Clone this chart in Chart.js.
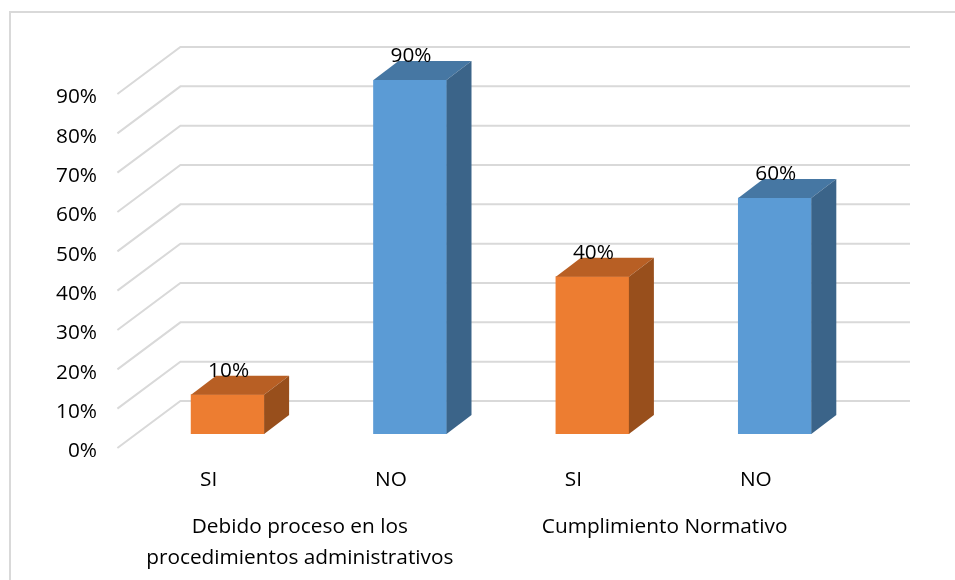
<!DOCTYPE html>
<html>
<head>
<meta charset="utf-8">
<title>Debido proceso y cumplimiento normativo</title>
<script src="https://cdn.jsdelivr.net/npm/chart.js@4"></script>
<style>
  html, body { margin: 0; padding: 0; background: #fff; }
  #wrap { width: 955px; height: 580px; }
  canvas { display: block; }
</style>
</head>
<body>
<div id="wrap"><canvas id="myChart" width="955" height="580"></canvas></div>
<script>
// Respuestas por categoria
const categories = ['SI', 'NO', 'SI', 'NO'];
const groups = [
    { label: ['Debido proceso en los', 'procedimientos administrativos'], from: 0, to: 1 },
    { label: ['Cumplimiento Normativo'], from: 2, to: 3 }
];
const values = [10, 90, 40, 60];
const yMax = 90;
const yStep = 10;

const orange = { front: '#ED7D31', top: '#B85F24', side: '#984F1C' };
const blue = { front: '#5B9BD5', top: '#4677A3', side: '#3B6489' };
const barColors = [orange, blue, orange, blue];

// Desplazamientos de la perspectiva respecto al plano de las barras
const wallBack = { dx: 44, dy: -33 };
const wallFront = { dx: -19, dy: 14 };
const barDepth = { dx: 25, dy: -19 };
const fontFamily = '"Open Sans", sans-serif';

const box3d = {
    id: 'box3d',
    beforeDraw(chart) {
        const c = chart.ctx;
        // marco: solo arriba e izquierda quedan dentro del lienzo
        c.save();
        c.strokeStyle = '#d9d9d9';
        c.lineWidth = 2;
        c.beginPath();
        c.moveTo(10, 580);
        c.lineTo(10, 12);
        c.lineTo(955, 12);
        c.stroke();
        c.restore();
    },
    // paredes y rejilla, detras de las barras
    beforeDatasetsDraw(chart) {
        const c = chart.ctx;
        const x = chart.scales.x;
        const y = chart.scales.y;
        c.save();
        c.strokeStyle = '#d9d9d9';
        c.lineWidth = 2;
        y.ticks.forEach((tick) => {
            const py = y.getPixelForValue(tick.value);
            c.beginPath();
            c.moveTo(x.left + wallFront.dx, py + wallFront.dy);
            c.lineTo(x.left + wallBack.dx, py + wallBack.dy);
            c.lineTo(x.right + wallBack.dx, py + wallBack.dy);
            c.stroke();
        });
        c.restore();
    },
    // caras superior y lateral de cada barra, y todos los textos
    afterDatasetsDraw(chart) {
        const c = chart.ctx;
        const x = chart.scales.x;
        const y = chart.scales.y;
        const bars = chart.getDatasetMeta(0).data;
        c.save();
        bars.forEach((bar, i) => {
            const left = bar.x - bar.width / 2;
            const right = bar.x + bar.width / 2;
            c.fillStyle = barColors[i].top;
            c.beginPath();
            c.moveTo(left, bar.y);
            c.lineTo(left + barDepth.dx, bar.y + barDepth.dy);
            c.lineTo(right + barDepth.dx, bar.y + barDepth.dy);
            c.lineTo(right, bar.y);
            c.closePath();
            c.fill();
            c.fillStyle = barColors[i].side;
            c.beginPath();
            c.moveTo(right, bar.y);
            c.lineTo(right + barDepth.dx, bar.y + barDepth.dy);
            c.lineTo(right + barDepth.dx, bar.base + barDepth.dy);
            c.lineTo(right, bar.base);
            c.closePath();
            c.fill();
        });

        c.fillStyle = '#000';
        c.font = '20.8px ' + fontFamily;
        c.textBaseline = 'middle';

        // etiquetas de valor
        c.textAlign = 'center';
        bars.forEach((bar, i) => {
            c.fillText(values[i] + '%', bar.x + 1, bar.y - 23.5);
        });

        // eje Y en el plano frontal
        c.textAlign = 'right';
        y.ticks.forEach((tick) => {
            c.fillText(tick.label, 97, y.getPixelForValue(tick.value) + wallFront.dy + 3.5);
        });

        // eje X y grupos
        c.textAlign = 'center';
        categories.forEach((name, i) => {
            c.fillText(name, x.getPixelForTick(i) + wallFront.dx, y.bottom + 46);
        });
        groups.forEach((group) => {
            const mid = (x.getPixelForTick(group.from) + x.getPixelForTick(group.to)) / 2 + wallFront.dx;
            group.label.forEach((line, j) => {
                c.fillText(line, mid, y.bottom + 93 + j * 31);
            });
        });
        c.restore();
    }
};

new Chart(document.getElementById('myChart').getContext('2d'), {
    type: 'bar',
    data: {
        labels: categories,
        datasets: [{
            data: values,
            backgroundColor: barColors.map((col) => col.front),
            barThickness: 73
        }]
    },
    options: {
        responsive: false,
        animation: false,
        layout: { padding: { left: 128.4, right: 89, top: 80, bottom: 138 } },
        plugins: { legend: { display: false }, tooltip: { enabled: false } },
        scales: {
            x: {
                grid: { display: false },
                border: { display: false },
                ticks: { display: false }
            },
            y: {
                min: 0,
                max: yMax,
                grid: { display: false },
                border: { display: false },
                ticks: {
                    display: false,
                    stepSize: yStep,
                    callback: (value) => value + '%'
                }
            }
        }
    },
    plugins: [box3d]
});
</script>
</body>
</html>
